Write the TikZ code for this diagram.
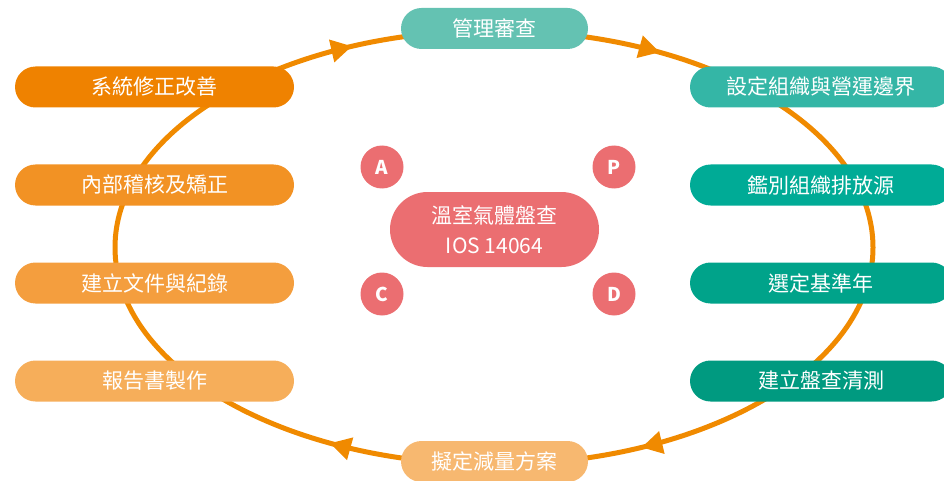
\documentclass[tikz,border=0pt]{standalone}
\usepackage{fontspec}
\setmainfont{Noto Sans CJK TC}
\usepackage{tikz}
\usetikzlibrary{arrows.meta,decorations.markings}

\definecolor{cycleorange}{HTML}{F08A00}
\definecolor{topteal}{HTML}{64C2B2}
\definecolor{rteal1}{HTML}{34B6A6}
\definecolor{rteal2}{HTML}{00AB96}
\definecolor{rteal3}{HTML}{00A38A}
\definecolor{rteal4}{HTML}{009A80}
\definecolor{lorange1}{HTML}{EF8200}
\definecolor{lorange2}{HTML}{F29224}
\definecolor{lorange3}{HTML}{F49E3E}
\definecolor{lorange4}{HTML}{F6AE5A}
\definecolor{botorange}{HTML}{F7B870}
\definecolor{pdcared}{HTML}{EB6E71}

\begin{document}
\begin{tikzpicture}[x=1pt,y=1pt,
	stepbox/.style={rectangle, rounded corners=20.5pt, minimum height=41pt,
		inner sep=0pt, text=white, font=\fontsize{21}{24}\selectfont},
	leftbox/.style={stepbox, minimum width=279pt},
	rightbox/.style={stepbox, minimum width=262pt},
	capbox/.style={stepbox, minimum width=187pt},
	letter/.style={circle, fill=pdcared, minimum size=43pt, inner sep=0pt,
		text=white, font=\fontsize{19}{20}\selectfont\bfseries},
	cycle/.style={draw=cycleorange, line width=5pt,
		decoration={markings,
			mark=at position 0.088 with {\arrow{Triangle[length=21pt,width=22pt]}},
			mark=at position 0.422 with {\arrow{Triangle[length=21pt,width=22pt]}},
			mark=at position 0.587 with {\arrow{Triangle[length=21pt,width=22pt]}},
			mark=at position 0.925 with {\arrow{Triangle[length=21pt,width=22pt]}}},
		postaction={decorate}}]
	\useasboundingbox (0,0) rectangle (944,480);
	\clip (0,0) rectangle (944,480);

	% the cycle
	\path[cycle] (494,449.5) arc[start angle=90, end angle=-270, x radius=379, y radius=217];

	% top and bottom
	\node[capbox, fill=topteal] (review) at (494.5,451.5) {管理審查};
	\node[capbox, fill=botorange] (reduce) at (494.5,18.5) {擬定減量方案};

	% right side
	\node[rightbox, fill=rteal1] (bound) at (821,393) {設定組織與營運邊界};
	\node[rightbox, fill=rteal2] (source) at (821,295) {鑑別組織排放源};
	\node[rightbox, fill=rteal3] (base) at (821,197) {選定基準年};
	\node[rightbox, fill=rteal4] (invent) at (821,99) {建立盤查清測};

	% left side
	\node[leftbox, fill=lorange1] (improve) at (154.5,393) {系統修正改善};
	\node[leftbox, fill=lorange2] (audit) at (154.5,295) {內部稽核及矯正};
	\node[leftbox, fill=lorange3] (docs) at (154.5,197) {建立文件與紀錄};
	\node[leftbox, fill=lorange4] (report) at (154.5,99) {報告書製作};

	% center
	\node[rectangle, rounded corners=37.5pt, fill=pdcared, minimum width=209pt,
		minimum height=75pt, inner sep=0pt, text=white, align=center,
		font=\fontsize{21}{30}\selectfont] (ghg) at (494.5,250.5) {溫室氣體盤查\\IOS 14064};
	\node[letter] (A) at (382,313) {A};
	\node[letter] (P) at (614,313) {P};
	\node[letter] (C) at (382,186) {C};
	\node[letter] (D) at (614,186) {D};
\end{tikzpicture}
\end{document}
